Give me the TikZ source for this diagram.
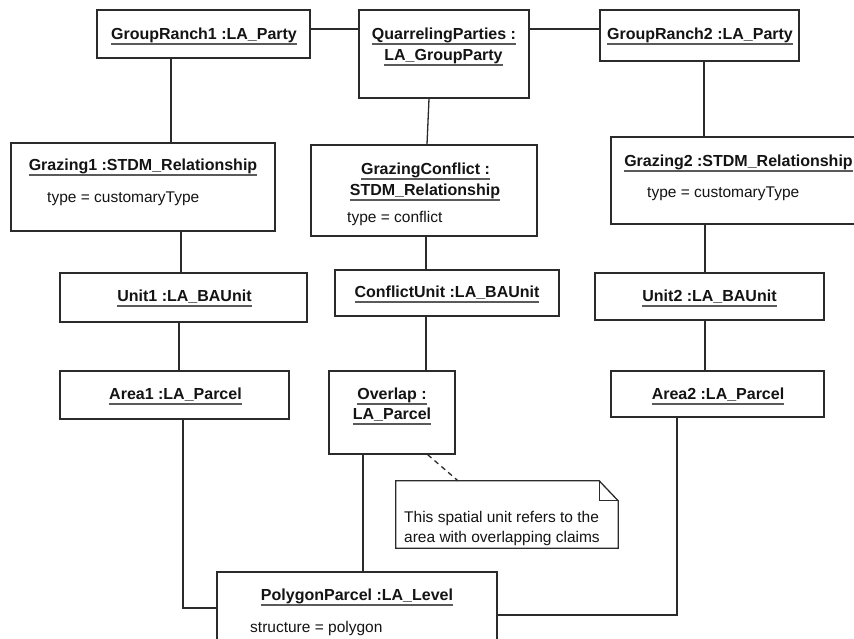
\documentclass[tikz,border=0pt]{standalone}
\usepackage{fontspec}
\setmainfont{Liberation Sans}
\definecolor{boxc}{HTML}{2B2B2B}
\definecolor{txtc}{HTML}{141414}
\definecolor{ulgray}{HTML}{5A5A5A}
\newcommand\ulx[1]{\vtop{\offinterlineskip\setbox0\hbox{#1}\dp0=0pt\copy0\kern4.2pt\hbox{\color{ulgray}\vrule width\wd0 height 1.4pt depth 0pt}}}
\begin{document}
\begin{tikzpicture}[x=1pt,y=-1pt,
  obj/.style={draw=boxc, line width=1.4pt, fill=white, inner sep=0pt, rectangle},
  ttl/.style={font=\bfseries\fontsize{16}{19}\selectfont, text=txtc, inner sep=0pt, anchor=base},
  attr/.style={font=\fontsize{15.5}{20}\selectfont, text=txtc, inner sep=0pt, anchor=base west},
  conn/.style={draw=boxc, line width=1.3pt},
  notec/.style={draw=boxc, line width=1.3pt, line join=miter},
]
\useasboundingbox (0,0) rectangle (854,638);
\fill[white] (0,0) rectangle (854,638);

% boxes
\node[obj, minimum width=213pt, minimum height=48pt] (gr1) at (203.5,34) {};
\node[obj, minimum width=170pt, minimum height=88pt] (qp) at (444,54) {};
\node[obj, minimum width=199pt, minimum height=51pt] (gr2) at (699.5,35.5) {};
\node[obj, minimum width=264pt, minimum height=88pt] (g1) at (143,187) {};
\node[obj, minimum width=226pt, minimum height=91pt] (gc) at (424,190.5) {};
\node[obj, minimum width=264pt, minimum height=87pt] (g2) at (743,180.5) {};
\node[obj, minimum width=247pt, minimum height=49pt] (u1) at (183.5,297.5) {};
\node[obj, minimum width=224pt, minimum height=46pt] (cu) at (447,293) {};
\node[obj, minimum width=229pt, minimum height=47pt] (u2) at (709.5,296.5) {};
\node[obj, minimum width=229pt, minimum height=48pt] (a1) at (174.5,395) {};
\node[obj, minimum width=126pt, minimum height=83pt] (ov) at (392,412.5) {};
\node[obj, minimum width=213pt, minimum height=46pt] (a2) at (717.5,394) {};
\node[obj, minimum width=280pt, minimum height=100pt] (pp) at (357,622) {};
\node[inner sep=0pt, minimum width=222pt, minimum height=67pt] (note) at (507,514.5) {};

% note outline
\draw[notec] (note.north west) -- ([xshift=-19pt]note.north east) -- ([yshift=-20pt]note.north east) -- (note.south east) -- (note.south west) -- cycle;
\draw[notec] ([xshift=-19pt]note.north east) -- ([xshift=-19pt,yshift=-20pt]note.north east) -- ([yshift=-20pt]note.north east);

% connectors
\draw[conn] ([yshift=5pt]gr1.east) -- ([yshift=25pt]qp.west);
\draw[conn] ([yshift=25pt]qp.east) -- ([yshift=6.5pt]gr2.west);
\draw[conn] ([xshift=-32.5pt]gr1.south) -- ([xshift=28pt]g1.north);
\draw[conn] ([xshift=-15pt]qp.south) -- ([xshift=3pt]gc.north);
\draw[conn] ([xshift=4.5pt]gr2.south) -- ([xshift=-39pt]g2.north);
\draw[conn] ([xshift=38pt]g1.south) -- ([xshift=-2.5pt]u1.north);
\draw[conn] ([xshift=2pt]gc.south) -- ([xshift=-21pt]cu.north);
\draw[conn] ([xshift=-38pt]g2.south) -- ([xshift=-4.5pt]u2.north);
\draw[conn] ([xshift=-4.5pt]u1.south) -- ([xshift=4.5pt]a1.north);
\draw[conn] ([xshift=-21pt]cu.south) -- ([xshift=34pt]ov.north);
\draw[conn] ([xshift=-4.5pt]u2.south) -- ([xshift=-12.5pt]a2.north);
\draw[conn] ([xshift=8.5pt]a1.south) |- ([yshift=14pt]pp.west);
\draw[conn] ([xshift=-29pt]ov.south) -- ([xshift=6pt]pp.north);
\draw[conn] ([xshift=-40.5pt]a2.south) |- ([yshift=7pt]pp.east);
\draw[conn, dash pattern=on 5pt off 4pt] ([xshift=-28pt]ov.south east) -- ([xshift=-49pt]note.north);

% texts
\node[ttl] (gr1t) at (204,39) {\ulx{GroupRanch1 :LA\_Party}};
\node[ttl] (qpt1) at (444,39) {\ulx{QuarrelingParties :}};
\node[ttl] (qpt2) at (443.5,60) {\ulx{LA\_GroupParty}};
\node[ttl] (gr2t) at (700,39) {\ulx{GroupRanch2 :LA\_Party}};
\node[ttl] (g1t) at (143,170) {\ulx{Grazing1 :STDM\_Relationship}};
\node[attr] (g1a) at (47,202) {type = customaryType};
\node[ttl] (gct1) at (425.5,174) {\ulx{GrazingConflict :}};
\node[ttl] (gct2) at (425,195) {\ulx{STDM\_Relationship}};
\node[attr] (gca) at (347,222) {type = conflict};
\node[ttl] (g2t) at (738.5,166) {\ulx{Grazing2 :STDM\_Relationship}};
\node[attr] (g2a) at (647,197) {type = customaryType};
\node[ttl] (u1t) at (184.5,301) {\ulx{Unit1 :LA\_BAUnit}};
\node[ttl] (cut) at (447,297) {\ulx{ConflictUnit :LA\_BAUnit}};
\node[ttl] (u2t) at (709.5,301) {\ulx{Unit2 :LA\_BAUnit}};
\node[ttl] (a1t) at (175.5,399) {\ulx{Area1 :LA\_Parcel}};
\node[ttl] (ovt1) at (392,399) {\ulx{Overlap :}};
\node[ttl] (ovt2) at (392,419) {\ulx{LA\_Parcel}};
\node[ttl] (a2t) at (718,399) {\ulx{Area2 :LA\_Parcel}};
\node[ttl] (ppt) at (357,600) {\ulx{PolygonParcel :LA\_Level}};
\node[attr] (ppa) at (250,632) {structure = polygon};
\node[attr] (nt1) at (404,522) {This spatial unit refers to the};
\node[attr] (nt2) at (404,542) {area with overlapping claims};
\end{tikzpicture}
\end{document}
